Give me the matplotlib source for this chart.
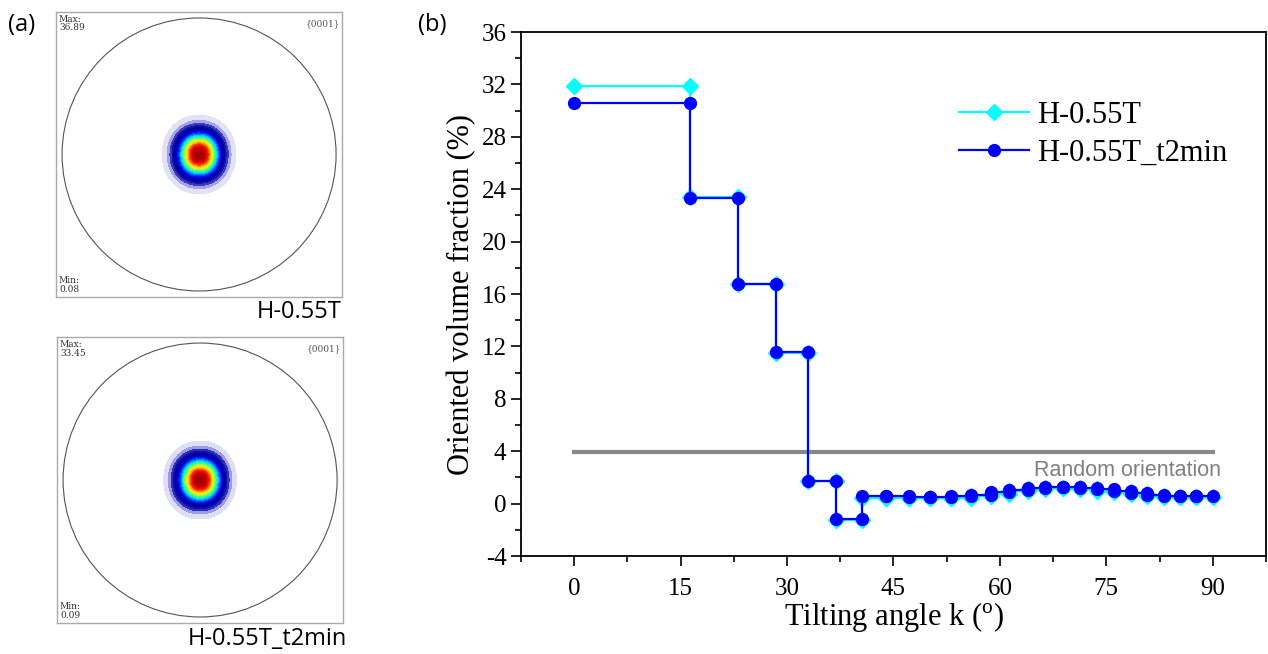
import numpy as np
import matplotlib
matplotlib.use("Agg")
import matplotlib.pyplot as plt
from matplotlib.colors import LinearSegmentedColormap
from matplotlib.patches import Circle
from matplotlib.ticker import MultipleLocator

plt.rcParams['mathtext.fontset'] = 'custom'
plt.rcParams['mathtext.rm'] = 'Liberation Serif'
plt.rcParams['axes.unicode_minus'] = False

# bin edges of the tilting angle (deg) and oriented volume fraction (%) per bin
edges = [0, 16.3, 23.1, 28.4, 32.9, 36.9, 40.5, 43.9, 47.2, 50.2, 53.1, 55.9, 58.7,
         61.3, 63.9, 66.4, 68.9, 71.3, 73.7, 76.1, 78.5, 80.8, 83.1, 85.4, 87.7, 90]
frac_h055 = [31.9, 23.4, 16.8, 11.5, 1.7, -1.25, 0.45, 0.45, 0.42, 0.42, 0.45, 0.55, 0.75,
             0.95, 1.1, 1.2, 1.2, 1.12, 1.0, 0.85, 0.7, 0.58, 0.52, 0.5, 0.5]
frac_t2min = [30.6, 23.3, 16.8, 11.6, 1.7, -1.15, 0.55, 0.55, 0.5, 0.5, 0.55, 0.65, 0.85,
              1.05, 1.2, 1.3, 1.3, 1.22, 1.1, 0.95, 0.8, 0.68, 0.62, 0.6, 0.6]
labels = ['H-0.55T', 'H-0.55T_t2min']
random_level = 3.95
random_span = [0, 90]

# pole figure maxima / minima
pf_max = [36.89, 33.45]
pf_min = [0.08, 0.09]


def step_xy(e, v):
    # two points per bin: start and end at the same value
    x = np.repeat(e, 2)[1:-1]
    y = np.repeat(v, 2)
    return x, y


fig = plt.figure(figsize=(12.68, 6.54), dpi=100)

# ---- (a) pole figures ----
pf_cmap = LinearSegmentedColormap.from_list('pf', [
    (0.0, '#ffffff'), (0.03, '#f0f0fb'), (0.06, '#d0d0f2'), (0.10, '#8080dc'),
    (0.13, '#2020b8'), (0.20, '#00009a'), (0.30, '#0000e0'), (0.38, '#0060ff'),
    (0.45, '#00e0ff'), (0.53, '#30ff90'), (0.62, '#c8ff30'), (0.70, '#ffe000'),
    (0.76, '#ff8000'), (0.82, '#ff2000'), (0.90, '#d00000'), (1.0, '#a00000')])

boxes = [[0.0442, 0.5459, 0.2256, 0.4358], [0.0450, 0.0474, 0.2256, 0.4373]]
names_y = [0.513, 0.014]
gx, gy = np.meshgrid(np.linspace(-1, 1, 401), np.linspace(-1, 1, 401))
for i in range(2):
    ax = fig.add_axes(boxes[i])
    rr = (np.abs(gx / 0.100)**2.1 + np.abs(gy / 0.107)**2.1)**(2 / 2.1)
    f = pf_max[i] * np.exp(-rr / 2)
    ax.contourf(gx, gy, f, levels=np.linspace(1.0, pf_max[i], 26), cmap=pf_cmap,
                vmin=0, vmax=pf_max[i])
    ax.add_patch(Circle((0, 0), 1, fill=False, ec='#555555', lw=0.8))
    ax.set_xlim(-1.044, 1.044)
    ax.set_ylim(-1.044, 1.044)
    ax.set_xticks([])
    ax.set_yticks([])
    for s in ax.spines.values():
        s.set_color('#aaaaaa')
        s.set_linewidth(1.0)
    ax.text(0.01, 0.99, 'Max:\n%.2f' % pf_max[i], transform=ax.transAxes, ha='left',
            va='top', fontsize=6.5, family='DejaVu Serif', linespacing=0.95, color='#333333')
    ax.text(0.01, 0.01, 'Min:\n%.2f' % pf_min[i], transform=ax.transAxes, ha='left',
            va='bottom', fontsize=6.5, family='DejaVu Serif', linespacing=0.95, color='#333333')
    ax.text(0.995, 0.975, '{0001}', transform=ax.transAxes, ha='right', va='top',
            fontsize=6.5, family='DejaVu Serif', color='#555555')
    fig.text(boxes[i][0] + boxes[i][2] + (0.0 if i == 0 else 0.003), names_y[i], labels[i],
             ha='right', va='baseline', fontsize=17, family='Open Sans')

fig.text(0.006, 0.952, '(a)', fontsize=17, family='Open Sans', va='baseline')
fig.text(0.330, 0.952, '(b)', fontsize=17, family='Open Sans', va='baseline')

# ---- (b) oriented volume fraction ----
ax = fig.add_axes([0.4109, 0.1498, 0.5875, 0.8012])
x1, y1 = step_xy(edges, frac_h055)
x2, y2 = step_xy(edges, frac_t2min)
ax.plot(random_span, [random_level, random_level], color='#888888', lw=3, zorder=1)
ax.plot(x1, y1, color='#00ffff', lw=1.6, marker='D', ms=8, mec='#00ffff', label=labels[0])
ax.plot(x2, y2, color='#0000ff', lw=1.6, marker='o', ms=8.5, mec='#0000ff', label=labels[1])
ax.text(64.8, 2.5, 'Random orientation', color='#808080', fontsize=15.5,
        family='Liberation Sans', ha='left', va='center')

ax.set_xlim(-7.5, 97.5)
ax.set_ylim(-4, 36)
ax.xaxis.set_major_locator(MultipleLocator(15))
ax.xaxis.set_minor_locator(MultipleLocator(7.5))
ax.yaxis.set_major_locator(MultipleLocator(4))
ax.yaxis.set_minor_locator(MultipleLocator(2))
ax.tick_params(which='both', direction='out', top=False, right=False, width=1.2,
               labelsize=18)
ax.tick_params(axis='x', pad=8)
ax.tick_params(axis='y', pad=3)
ax.tick_params(which='major', length=7.5)
ax.tick_params(which='minor', length=4.5)
for t in ax.get_xticklabels() + ax.get_yticklabels():
    t.set_family('Liberation Serif')
for s in ax.spines.values():
    s.set_linewidth(1.3)
ax.set_xlabel(r'Tilting angle k ($^\mathregular{o}$)', fontsize=22, family='Liberation Serif',
              labelpad=0)
ax.set_ylabel('Oriented volume fraction (%)', fontsize=22, family='Liberation Serif', labelpad=4)
ax.legend(loc='upper left', bbox_to_anchor=(0.551, 0.921), frameon=False,
          prop={'family': 'Liberation Serif', 'size': 22}, handlelength=2.3,
          handletextpad=0.25, labelspacing=0.3)

fig.savefig('out.png', dpi=100)
